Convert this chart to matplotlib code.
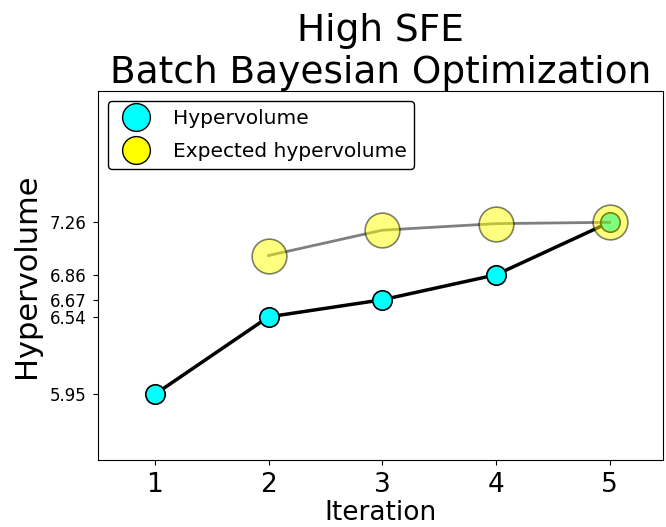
import numpy as np
import matplotlib.pyplot as plt
from matplotlib.lines import Line2D

iterations = [1, 2, 3, 4, 5]
hypervolume = [5.95, 6.54, 6.67, 6.86, 7.26]

exp_iterations = [2, 3, 4, 5]
expected_hv = [7.007, 7.20, 7.25, 7.26]

fig = plt.figure(figsize=(6.66, 5.27), dpi=100)
ax = fig.add_axes([98/666, 1 - 460/527, (663-98)/666, (460-91)/527])

ax.plot(iterations, hypervolume, color="black", lw=2.5, marker="o", markersize=14,
        markerfacecolor="cyan", markeredgecolor="black", markeredgewidth=1.2, zorder=2)
ax.plot(exp_iterations, expected_hv, color="black", alpha=0.5, lw=2, zorder=3)
ax.plot(exp_iterations, expected_hv, ls="none", marker="o", markersize=25,
        markerfacecolor="yellow", markeredgecolor="black", markeredgewidth=1.2,
        alpha=0.5, zorder=3)

ax.set_xlim(0.5, 5.47)
ax.set_ylim(min(hypervolume) - 0.5, max(hypervolume) + 1.0)
ax.set_xticks(iterations)
ax.set_xticklabels([str(i) for i in iterations], fontsize=19)
ax.tick_params(axis="x", pad=5)
ax.tick_params(axis="y", pad=5)
ax.set_yticks(hypervolume)
ax.set_yticklabels(["%.2f" % v for v in hypervolume], fontsize=12)
ax.set_xlabel("Iteration", fontsize=19, labelpad=1.5)
ax.set_ylabel("Hypervolume", fontsize=22, labelpad=6)
ax.set_title("High SFE\nBatch Bayesian Optimization", fontsize=27)

handles = [
    Line2D([], [], ls="none", marker="o", markersize=20, markerfacecolor="cyan",
           markeredgecolor="black"),
    Line2D([], [], ls="none", marker="o", markersize=20, markerfacecolor="yellow",
           markeredgecolor="black"),
]
ax.legend(handles, ["Hypervolume", "Expected hypervolume"], loc="upper left",
          fontsize=14.5, edgecolor="black", framealpha=1, handletextpad=0.8,
          labelspacing=0.7)

fig.savefig("out.png", dpi=100)
